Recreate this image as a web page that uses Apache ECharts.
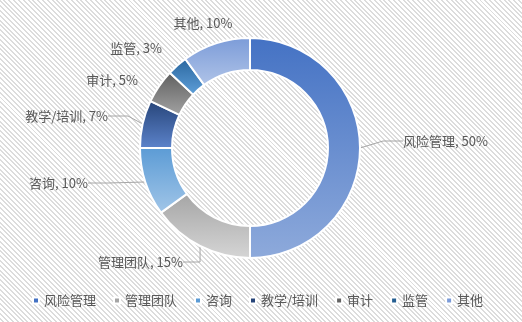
<!DOCTYPE html>
<html><head><meta charset="utf-8">
<script src="https://cdn.jsdelivr.net/npm/echarts@6/dist/echarts.min.js"></script>
<style>html,body{margin:0;padding:0;background:#fff}
#c{width:522px;height:322px;background:repeating-linear-gradient(45deg,#ffffff 0px,#ffffff 2px,#dcdcdc 2px,#dcdcdc 3.4px)}</style>
</head><body><div id="c"></div>
<script>
var categories = ['风险管理','管理团队','咨询','教学/培训','审计','监管','其他'];
var values = [50, 15, 10, 7, 5, 3, 10];
var legendColors = ['#4472C4','#A5A5A5','#5B9BD5','#264478','#636363','#255E91','#7B9BD8'];
var gradTop = ['#4472C4','#A5A5A5','#5B9BD5','#264478','#5E5E5E','#2A669E','#7B9BD8'];
var gradBottom = ['#8EAADB','#D6D6D6','#A2C6E8','#5D84CC','#A3A3A3','#5FA0DA','#B0C4E8'];
var showLine = [true, true, true, true, false, false, false];

var labelPos = [
  {x:403, y:141, align:'left'},
  {x:183, y:262, align:'right'},
  {x:88,  y:183, align:'right'},
  {x:108, y:116, align:'right'},
  {x:138, y:80,  align:'right'},
  {x:162, y:48,  align:'right'},
  {x:203, y:23,  align:'center'}
];

var chart = echarts.init(document.getElementById('c'), null, {renderer:'canvas'});
var data = categories.map(function(n, i){
  return {
    name: n, value: values[i],
    labelLine: {show: showLine[i]},
    itemStyle: { color: new echarts.graphic.LinearGradient(0,0,0,1,[{offset:0,color:gradTop[i]},{offset:1,color:gradBottom[i]}]) }
  };
});
chart.setOption({
  backgroundColor: 'transparent',
  animation: false,
  legend: {
    bottom: 10, left: 27,
    icon: 'rect', itemWidth: 6, itemHeight: 6, itemGap: 17,
    textStyle: {color:'#595959', fontSize: 13, fontFamily: 'Noto Sans CJK SC'},
    data: categories.map(function(n,i){ return {name:n, itemStyle:{color:legendColors[i]}}; })
  },
  series: [{
    type: 'pie',
    center: [250, 148],
    radius: [78, 110],
    startAngle: 90,
    clockwise: true,
    avoidLabelOverlap: false,
    itemStyle: {borderColor:'#ffffff', borderWidth: 2},
    label: {
      formatter: '{b}, {c}%',
      color: '#595959', fontSize: 13, fontFamily: 'Noto Sans CJK SC'
    },
    labelLine: {length: 12, length2: 20, lineStyle:{color:'#a6a6a6', width:1}},
    labelLayout: function(p){
      var lp = labelPos[p.dataIndex];
      return {x: lp.x, y: lp.y, align: lp.align, verticalAlign: 'middle'};
    },
    data: data
  }]
});
</script></body></html>
